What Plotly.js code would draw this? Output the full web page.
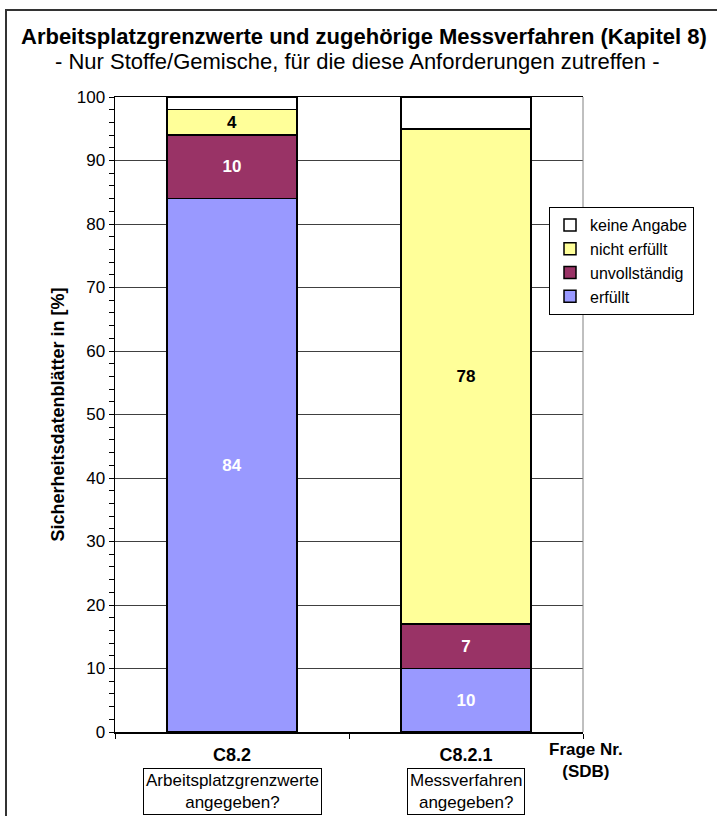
<!DOCTYPE html>
<html>
<head>
<meta charset="utf-8">
<script src="https://cdn.plot.ly/plotly-3.0.1.min.js"></script>
<style>
  html, body { margin: 0; padding: 0; background: #fff; }
  #chart { width: 717px; height: 816px; }
</style>
</head>
<body>
<div id="chart"></div>
<script>
// Fragen (Kategorien) und ihre Beschriftungen
const categories = ['C8.2', 'C8.2.1'];
const questionText = ['Arbeitsplatzgrenzwerte<br>angegeben?', 'Messverfahren<br>angegeben?'];

// Anteile der Sicherheitsdatenblätter in %
const erfuellt       = [84, 10];
const unvollstaendig = [10, 7];
const nichtErfuellt  = [4, 78];
const keineAngabe    = [2, 5];

const seriesNames = ['erfüllt', 'unvollständig', 'nicht erfüllt', 'keine Angabe'];

const FONT = 'Liberation Sans, Arial, sans-serif';

// Plotbereich in Pixeln (für Positionen von Texten außerhalb des Plots)
const W = 717, H = 816;
const M = { l: 115, r: 134, t: 97, b: 84 };
const pw = W - M.l - M.r, ph = H - M.t - M.b;
const X = p => (p - M.l) / pw;
const Y = p => (H - M.b - p) / ph;

function barTrace(name, values, color, textColor, showText) {
  return {
    type: 'bar',
    name: name,
    x: categories,
    y: values,
    marker: { color: color, line: { color: '#000', width: 1.5 } },
    text: showText ? values.map(v => String(v)) : undefined,
    texttemplate: showText ? '%{y}' : undefined,
    textposition: showText ? 'inside' : 'none',
    insidetextanchor: 'middle',
    textangle: 0,
    constraintext: 'none',
    insidetextfont: { family: FONT, size: 17, color: textColor, weight: 'bold' },
    hoverinfo: 'name+y'
  };
}

const data = [
  barTrace(seriesNames[0], erfuellt, '#9999FF', '#FFFFFF', true),
  barTrace(seriesNames[1], unvollstaendig, '#993366', '#FFFFFF', true),
  barTrace(seriesNames[2], nichtErfuellt, '#FFFF99', '#000000', true),
  barTrace(seriesNames[3], keineAngabe, '#FFFFFF', '#000000', false)
];

const annotations = [
  {
    text: '<b>Arbeitsplatzgrenzwerte und zugehörige Messverfahren (Kapitel 8)</b>',
    xref: 'paper', yref: 'paper', x: X(364), y: Y(37),
    xanchor: 'center', yanchor: 'middle', showarrow: false,
    font: { family: FONT, size: 22, color: '#000' }
  },
  {
    text: '- Nur Stoffe/Gemische, für die diese Anforderungen zutreffen -',
    xref: 'paper', yref: 'paper', x: X(357), y: Y(61),
    xanchor: 'center', yanchor: 'middle', showarrow: false,
    font: { family: FONT, size: 22, color: '#000' }
  },
  {
    text: '<b>Sicherheitsdatenblätter in [%]</b>',
    xref: 'paper', yref: 'paper', x: X(57), y: 0.5,
    xanchor: 'center', yanchor: 'middle', textangle: -90, showarrow: false,
    font: { family: FONT, size: 18, color: '#000' }
  },
  {
    text: '<b>Frage Nr.<br>(SDB)</b>',
    xref: 'paper', yref: 'paper', x: X(586), y: Y(760),
    xanchor: 'center', yanchor: 'middle', showarrow: false,
    font: { family: FONT, size: 17, color: '#000' }
  }
];

categories.forEach((c, i) => {
  annotations.push({
    text: questionText[i],
    xref: 'x', yref: 'paper', x: c, y: Y(768),
    xanchor: 'center', yanchor: 'top', showarrow: false,
    bordercolor: '#000', borderwidth: 1, borderpad: 2, bgcolor: '#fff',
    font: { family: FONT, size: 17, color: '#000' }
  });
});

const layout = {
  width: W, height: H,
  margin: M,
  paper_bgcolor: '#fff', plot_bgcolor: '#fff',
  font: { family: FONT, color: '#000' },
  barmode: 'stack',
  bargap: 0.445,
  showlegend: true,
  legend: {
    x: X(549), y: Y(207), xanchor: 'left', yanchor: 'top',
    traceorder: 'reversed',
    bgcolor: '#fff', bordercolor: '#000', borderwidth: 1,
    font: { family: FONT, size: 16, color: '#000' },
    itemwidth: 30
  },
  xaxis: {
    type: 'category',
    showline: true, linecolor: '#000', linewidth: 1.5, mirror: true,
    ticks: 'outside', tickson: 'boundaries', ticklen: 5, tickcolor: '#000',
    showgrid: false, zeroline: false,
    tickfont: { family: FONT, size: 18, color: '#000', weight: 'bold' },
    ticklabelstandoff: 6
  },
  yaxis: {
    range: [0, 100], dtick: 10, tick0: 0,
    showline: true, linecolor: '#000', linewidth: 1.5,
    ticks: 'outside', ticklen: 5, tickcolor: '#000',
    showgrid: true, gridcolor: '#404040', gridwidth: 1,
    zeroline: false,
    minor: { dtick: 2, ticks: 'outside', ticklen: 5, tickcolor: '#000', showgrid: false },
    tickfont: { family: FONT, size: 17, color: '#000' }
  },
  shapes: [
    // rechter Rand des Plotbereichs
    { type: 'line', xref: 'paper', yref: 'paper', x0: 1, x1: 1, y0: 0, y1: 1,
      line: { color: '#808080', width: 1 } },
    // Diagrammrahmen
    { type: 'rect', xref: 'paper', yref: 'paper',
      x0: X(6), x1: X(760), y0: Y(10), y1: Y(860),
      line: { color: '#333', width: 2 }, fillcolor: 'rgba(0,0,0,0)' }
  ],
  annotations: annotations
};

Plotly.newPlot('chart', data, layout, { displayModeBar: false, staticPlot: true });
</script>
</body>
</html>
